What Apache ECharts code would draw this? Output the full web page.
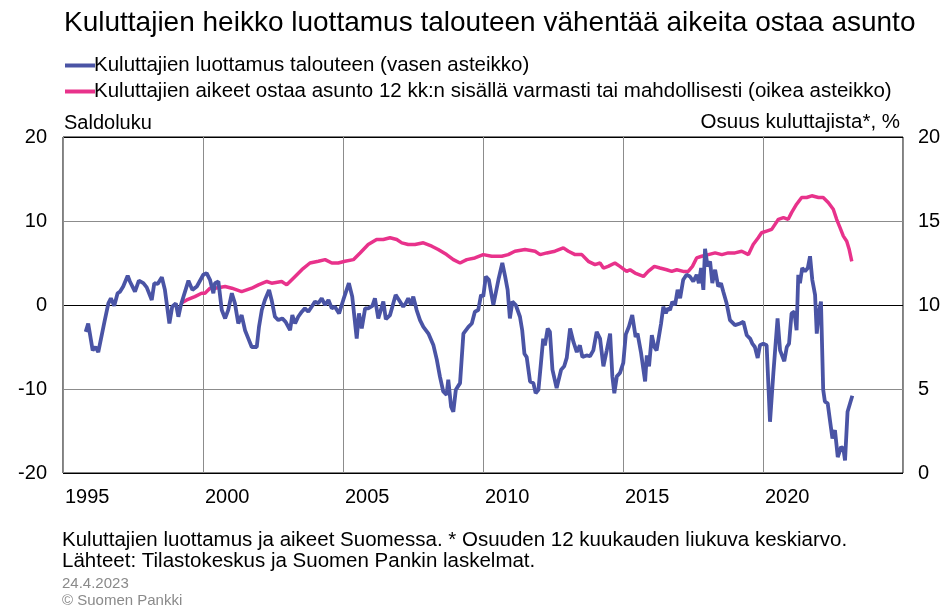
<!DOCTYPE html>
<html>
<head>
<meta charset="utf-8">
<script src="https://cdn.jsdelivr.net/npm/echarts@6/dist/echarts.min.js"></script>
<style>
  html, body { margin: 0; padding: 0; background: #fff; }
  #chart { width: 948px; height: 605px; }
</style>
</head>
<body>
<div id="chart"></div>
<script>
// Kuluttajien luottamus talouteen (vasen asteikko), x = vuosi desimaalina
const confYears = [
  1995.81, 1995.90, 1996.06, 1996.16, 1996.26, 1996.48, 1996.62, 1996.71, 1996.83, 1996.95,
  1997.04, 1997.15, 1997.31, 1997.39, 1997.57, 1997.71, 1997.87, 1997.99, 1998.17, 1998.26,
  1998.38, 1998.53, 1998.64, 1998.80, 1998.90, 1999.03, 1999.12, 1999.21, 1999.48, 1999.62,
  1999.78, 2000.01, 2000.13, 2000.25, 2000.37, 2000.43, 2000.55, 2000.67, 2000.79, 2000.90,
  2001.03, 2001.14, 2001.26, 2001.38, 2001.50, 2001.62, 2001.74, 2001.92, 2002.00, 2002.10,
  2002.21, 2002.36, 2002.45, 2002.57, 2002.69, 2002.83, 2002.95, 2003.11, 2003.19, 2003.29,
  2003.40, 2003.53, 2003.64, 2003.76, 2003.88, 2004.00, 2004.12, 2004.24, 2004.36, 2004.48,
  2004.60, 2004.71, 2004.86, 2005.01, 2005.21, 2005.33, 2005.49, 2005.57, 2005.67, 2005.79,
  2005.90, 2006.05, 2006.14, 2006.26, 2006.44, 2006.53, 2006.68, 2006.88, 2007.00, 2007.15,
  2007.24, 2007.33, 2007.43, 2007.51, 2007.63, 2007.75, 2007.87, 2008.05, 2008.23, 2008.35,
  2008.46, 2008.58, 2008.70, 2008.76, 2008.86, 2008.94, 2009.03, 2009.18, 2009.30, 2009.48,
  2009.60, 2009.71, 2009.83, 2009.93, 2010.01, 2010.10, 2010.21, 2010.37, 2010.55, 2010.69,
  2010.79, 2010.88, 2010.96, 2011.05, 2011.17, 2011.32, 2011.40, 2011.48, 2011.56, 2011.68,
  2011.80, 2011.88, 2011.98, 2012.07, 2012.15, 2012.21, 2012.31, 2012.39, 2012.48, 2012.63,
  2012.79, 2012.90, 2012.99, 2013.11, 2013.23, 2013.35, 2013.46, 2013.55, 2013.70, 2013.82,
  2013.94, 2014.06, 2014.18, 2014.30, 2014.42, 2014.54, 2014.62, 2014.69, 2014.78, 2014.89,
  2015.01, 2015.10, 2015.21, 2015.33, 2015.45, 2015.52, 2015.64, 2015.79, 2015.85, 2015.93,
  2016.03, 2016.12, 2016.20, 2016.36, 2016.44, 2016.53, 2016.60, 2016.68, 2016.76, 2016.86,
  2016.95, 2017.04, 2017.15, 2017.27, 2017.39, 2017.51, 2017.63, 2017.71, 2017.79, 2017.87,
  2017.93, 2018.02, 2018.11, 2018.19, 2018.29, 2018.40, 2018.50, 2018.58, 2018.70, 2018.82,
  2019.00, 2019.18, 2019.30, 2019.42, 2019.54, 2019.62, 2019.71, 2019.81, 2019.89, 2020.01,
  2020.13, 2020.25, 2020.37, 2020.52, 2020.61, 2020.76, 2020.85, 2020.93, 2021.02, 2021.12,
  2021.20, 2021.26, 2021.32, 2021.40, 2021.50, 2021.60, 2021.68, 2021.76, 2021.86, 2021.92,
  2022.00, 2022.07, 2022.15, 2022.21, 2022.31, 2022.39, 2022.48, 2022.57, 2022.67, 2022.79,
  2022.87, 2022.93, 2023.02, 2023.11, 2023.19
];
const confValues = [
  -3.2, -2.2, -5.4, -5.0, -5.6, -2.0, 0.2, 0.8, -0.1, 1.4,
  1.6, 2.2, 3.5, 2.8, 1.6, 2.9, 2.6, 2.1, 0.6, 2.6,
  2.5, 3.3, 1.8, -2.2, -0.2, 0.2, -1.4, 0.0, 2.9, 1.8,
  2.2, 3.6, 3.8, 3.0, 1.4, 2.6, 2.8, -0.6, -1.6, -0.6,
  1.4, 0.2, -2.2, -1.2, -3.0, -4.0, -5.0, -5.0, -2.6, -0.6,
  0.6, 1.8, 0.6, -1.4, -1.8, -1.6, -2.0, -3.0, -1.2, -2.2,
  -1.4, -0.8, -0.4, -0.8, -0.2, 0.4, 0.2, 0.8, 0.0, 0.6,
  -0.4, -0.2, -1.0, 0.6, 2.6, 1.0, -4.0, -1.0, -2.8, -0.4,
  -0.4, -0.1, 0.8, -1.6, 0.4, -1.7, -1.2, 1.2, 0.6, -0.2,
  0.2, 0.8, 0.0, 1.0, -0.6, -1.8, -2.6, -3.4, -4.8, -6.5,
  -8.5, -10.3, -10.7, -8.9, -12.1, -12.7, -10.1, -9.3, -3.4, -2.6,
  -2.2, -0.8, -0.6, 1.2, 1.0, 3.4, 3.0, 0.0, 3.0, 5.0,
  3.4, 1.8, -1.6, 0.4, 0.0, -1.4, -3.0, -5.8, -6.2, -9.1,
  -9.3, -10.5, -10.1, -6.9, -4.0, -4.8, -2.8, -3.2, -7.7, -9.9,
  -7.7, -7.3, -6.3, -2.8, -4.4, -5.6, -4.8, -6.2, -6.0, -6.1,
  -5.4, -3.2, -4.0, -7.3, -5.4, -3.4, -8.5, -10.5, -8.5, -8.1,
  -6.9, -3.5, -2.6, -1.2, -3.8, -3.4, -5.6, -9.1, -6.0, -7.3,
  -3.6, -5.0, -5.4, -2.2, -0.2, -1.0, -0.4, -0.6, 0.4, 0.0,
  1.8, 0.8, 3.0, 3.6, 3.4, 2.8, 3.6, 2.6, 4.4, 1.8,
  6.7, 4.6, 5.2, 2.6, 4.2, 2.2, 2.6, 1.6, 0.2, -1.8,
  -2.4, -2.2, -2.0, -3.6, -4.0, -4.6, -5.0, -6.3, -4.8, -4.6,
  -4.8, -13.9, -8.1, -1.6, -5.4, -6.7, -5.0, -4.6, -1.0, -0.8,
  -3.0, 3.6, 2.6, 4.4, 4.0, 4.4, 5.8, 3.0, 1.2, -3.4,
  -0.8, 0.4, -10.1, -11.5, -11.7, -13.7, -15.9, -14.9, -18.1, -16.9,
  -17.1, -18.5, -12.7, -11.7, -10.8
];

// Aikeet ostaa asunto, osuus kuluttajista % (oikea asteikko)
const buyYears = [
  1999.21, 1999.42, 1999.71, 1999.95, 2000.07, 2000.25, 2000.43, 2000.79, 2001.03, 2001.38,
  2001.74, 2001.98, 2002.28, 2002.45, 2002.81, 2002.99, 2003.29, 2003.53, 2003.82, 2004.12,
  2004.36, 2004.60, 2004.83, 2005.07, 2005.37, 2005.61, 2005.90, 2006.20, 2006.44, 2006.68,
  2006.92, 2007.10, 2007.33, 2007.57, 2007.87, 2008.17, 2008.40, 2008.70, 2008.94, 2009.18,
  2009.42, 2009.71, 2010.01, 2010.31, 2010.67, 2010.90, 2011.14, 2011.50, 2011.86, 2012.04,
  2012.28, 2012.57, 2012.87, 2013.05, 2013.29, 2013.53, 2013.76, 2014.00, 2014.18, 2014.30,
  2014.47, 2014.71, 2014.89, 2015.13, 2015.25, 2015.43, 2015.73, 2015.90, 2016.12, 2016.32,
  2016.56, 2016.74, 2016.92, 2017.15, 2017.33, 2017.48, 2017.63, 2017.81, 2018.05, 2018.29,
  2018.53, 2018.76, 2019.00, 2019.24, 2019.48, 2019.65, 2019.83, 2019.95, 2020.13, 2020.31,
  2020.43, 2020.55, 2020.73, 2020.90, 2021.02, 2021.20, 2021.38, 2021.56, 2021.74, 2021.98,
  2022.15, 2022.33, 2022.51, 2022.63, 2022.75, 2022.87, 2022.99, 2023.08, 2023.17
];
const buyValues = [
  10.1, 10.3, 10.5, 10.7, 10.7, 11.0, 11.0, 11.1, 11.0, 10.8,
  11.0, 11.2, 11.4, 11.3, 11.4, 11.2, 11.7, 12.1, 12.5, 12.6,
  12.7, 12.5, 12.5, 12.6, 12.7, 13.1, 13.6, 13.9, 13.9, 14.0,
  13.9, 13.7, 13.6, 13.6, 13.7, 13.5, 13.3, 13.0, 12.7, 12.5,
  12.7, 12.8, 13.0, 12.9, 12.9, 13.0, 13.2, 13.3, 13.2, 13.0,
  13.1, 13.2, 13.4, 13.2, 13.0, 13.0, 12.6, 12.4, 12.5, 12.2,
  12.3, 12.5, 12.3, 12.0, 12.1, 11.9, 11.7, 12.0, 12.3, 12.2,
  12.1, 12.0, 12.1, 12.0, 12.0, 12.3, 12.8, 12.9, 13.0, 13.1,
  13.0, 13.1, 13.1, 13.2, 13.0, 13.6, 14.0, 14.3, 14.4, 14.5,
  14.8, 15.1, 15.2, 15.1, 15.5, 16.0, 16.4, 16.4, 16.5, 16.4,
  16.4, 16.1, 15.7, 15.1, 14.6, 14.1, 13.8, 13.3, 12.6
];

const seriesNames = [
  'Kuluttajien luottamus talouteen (vasen asteikko)',
  'Kuluttajien aikeet ostaa asunto 12 kk:n sisällä varmasti tai mahdollisesti (oikea asteikko)'
];

const BLUE = '#4A54A5';
const PINK = '#E8328B';
const FONT = '"Liberation Sans", Arial, sans-serif';

const chart = echarts.init(document.getElementById('chart'));

chart.setOption({
  animation: false,
  textStyle: { fontFamily: FONT, color: '#000' },
  title: [
    {
      text: 'Kuluttajien heikko luottamus talouteen vähentää aikeita ostaa asunto',
      left: 64, top: 9, padding: 0,
      textStyle: { fontFamily: FONT, fontSize: 28, fontWeight: 'normal', color: '#000' }
    },
    {
      text: 'Kuluttajien luottamus ja aikeet Suomessa. * Osuuden 12 kuukauden liukuva keskiarvo.\nLähteet: Tilastokeskus ja Suomen Pankin laskelmat.',
      left: 62, top: 530, padding: 0,
      textStyle: { fontFamily: FONT, fontSize: 20.5, fontWeight: 'normal', color: '#000', lineHeight: 21 }
    },
    {
      text: '24.4.2023\n© Suomen Pankki',
      left: 62, top: 575, padding: 0,
      textStyle: { fontFamily: FONT, fontSize: 15, fontWeight: 'normal', color: '#8a8a8a', lineHeight: 17 }
    }
  ],
  legend: {
    orient: 'vertical',
    left: 60, top: 50,
    itemWidth: 30, itemHeight: 4, itemGap: 5,
    icon: 'rect',
    textStyle: { fontFamily: FONT, fontSize: 20.5, color: '#000', padding: [0, 0, 0, -6] },
    data: seriesNames
  },
  grid: {
    left: 63, right: 45, top: 137, bottom: 132,
    show: true, borderColor: '#000', borderWidth: 1
  },
  xAxis: {
    type: 'value',
    min: 1995, max: 2025, interval: 5,
    axisLine: { show: false },
    axisTick: { show: false },
    splitLine: { show: true, lineStyle: { color: '#8c8c8c', width: 1 } },
    axisLabel: {
      align: 'left', margin: 14, padding: [0, 0, 0, 2],
      fontSize: 20, fontFamily: FONT, color: '#000',
      formatter: v => (v >= 2025 ? '' : String(v))
    }
  },
  yAxis: [
    {
      type: 'value',
      min: -20, max: 20, interval: 10,
      name: 'Saldoluku',
      nameLocation: 'end', nameGap: 4,
      nameTextStyle: { fontFamily: FONT, fontSize: 20, color: '#000', align: 'left', padding: [0, 0, 0, 1] },
      axisLine: { show: false },
      axisTick: { show: false },
      axisLabel: { fontSize: 20, fontFamily: FONT, color: '#000', margin: 16 },
      splitLine: { show: true, lineStyle: { color: ['#000', '#8c8c8c', '#000', '#8c8c8c', '#000'], width: 1 } }
    },
    {
      type: 'value',
      min: 0, max: 20, interval: 5,
      name: 'Osuus kuluttajista*, %',
      nameLocation: 'end', nameGap: 4,
      nameTextStyle: { fontFamily: FONT, fontSize: 20.5, color: '#000', align: 'right', padding: [0, 3, 0, 0] },
      axisLine: { show: false },
      axisTick: { show: false },
      axisLabel: { fontSize: 20, fontFamily: FONT, color: '#000', margin: 15 },
      splitLine: { show: false }
    }
  ],
  series: [
    {
      name: seriesNames[0],
      type: 'line',
      yAxisIndex: 0,
      data: confYears.map((x, i) => [x, confValues[i]]),
      showSymbol: false,
      lineStyle: { color: BLUE, width: 3.8 },
      itemStyle: { color: BLUE },
      z: 3
    },
    {
      name: seriesNames[1],
      type: 'line',
      yAxisIndex: 1,
      data: buyYears.map((x, i) => [x, buyValues[i]]),
      showSymbol: false,
      lineStyle: { color: PINK, width: 3.5 },
      itemStyle: { color: PINK },
      z: 2
    }
  ]
});
</script>
</body>
</html>
